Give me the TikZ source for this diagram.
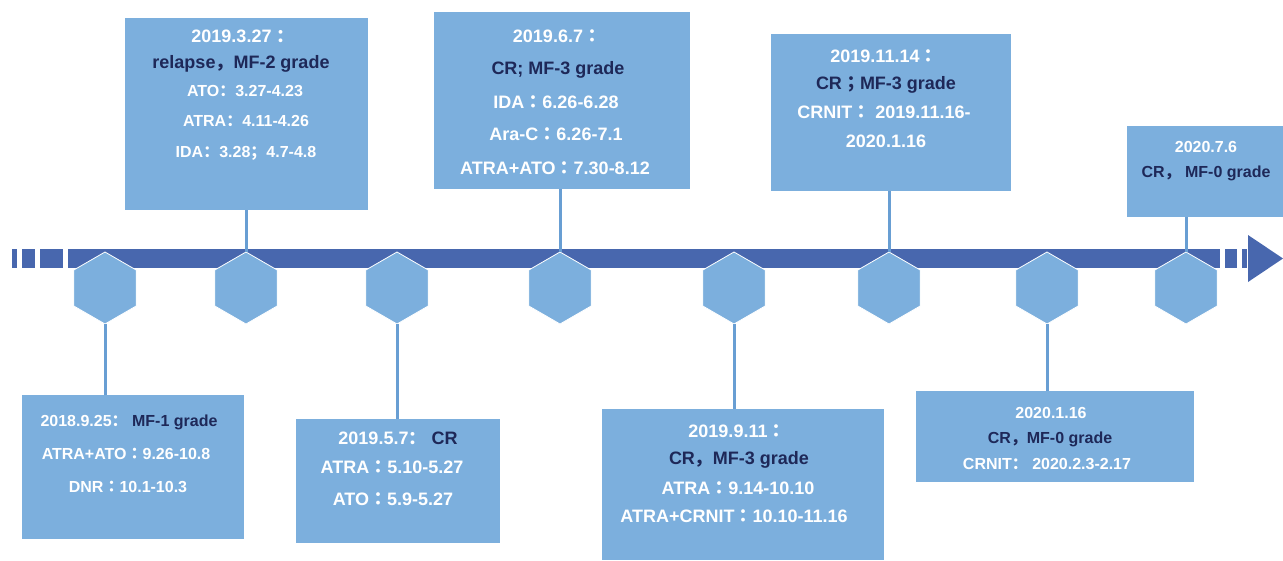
\documentclass[tikz,border=0pt]{standalone}
\usepackage{fontspec}
\setmainfont{Liberation Sans}
\newfontfamily\cjk{Noto Sans CJK SC}
\newfontfamily\cjkc{Noto Sans CJK TC}
\usetikzlibrary{shapes.geometric}
\definecolor{barblue}{RGB}{72,103,174}
\definecolor{boxblue}{RGB}{124,175,221}
\definecolor{linkblue}{RGB}{104,158,211}
\definecolor{inkdark}{RGB}{30,40,88}
\newcommand{\fw}[1]{{\cjk #1}}
\newcommand{\fwc}[1]{{\cjkc #1}}
\newcommand{\fsz}[1]{\fontsize{#1}{#1}\selectfont\bfseries}
\tikzset{
	card/.style={fill=boxblue,draw=none,inner sep=0pt},
	hexa/.style={regular polygon,regular polygon sides=6,shape border rotate=30,
		minimum size=72pt,inner sep=0pt,fill=boxblue,draw=white,line width=0.8pt},
	link/.style={draw=linkblue,line width=3pt},
	wtxt/.style={anchor=base,inner sep=0pt,text=white},
	dtxt/.style={wtxt,text=inkdark}
}
\begin{document}
\begin{tikzpicture}[x=1pt,y=-1pt]
			\useasboundingbox (0,0) rectangle (1283,560);
			% time bar
			\fill[barblue] (68,249) rectangle (1220,268);
			\foreach \a/\b in {12/17,22/35,40/63,1225/1237,1242/1247}
				\fill[barblue] (\a,249) rectangle (\b,268);
			\fill[barblue] (1248,235) -- (1283,258.5) -- (1248,282) -- cycle;
			% hexagons
			\foreach \x [count=\i] in {105,246,397,560,734,889,1047,1186}
				\node[hexa] (h\i) at (\x,288) {};
			% boxes
			\node[card,minimum width=243,minimum height=192] (top1) at (246.5,114) {};
			\node[card,minimum width=256,minimum height=177] (top2) at (562,100.5) {};
			\node[card,minimum width=240,minimum height=157] (top3) at (891,112.5) {};
			\node[card,minimum width=156,minimum height=91] (top4) at (1205,171.5) {};
			\node[card,minimum width=222,minimum height=144] (bot1) at (133,467) {};
			\node[card,minimum width=204,minimum height=124] (bot2) at (398,481) {};
			\node[card,minimum width=282,minimum height=151] (bot3) at (743,484.5) {};
			\node[card,minimum width=278,minimum height=91] (bot4) at (1055,436.5) {};
			% connectors
			\draw[link] (h1.south) -- (bot1.north -| h1);
			\draw[link] (top1.south -| h2) -- (h2.north);
			\draw[link] (h3.south) -- (bot2.north -| h3);
			\draw[link] (top2.south -| h4) -- (h4.north);
			\draw[link] (h5.south) -- (bot3.north -| h5);
			\draw[link] (top3.south -| h6) -- (h6.north);
			\draw[link] (h7.south) -- (bot4.north -| h7);
			\draw[link] (top4.south -| h8) -- (h8.north);
			% 2019.3.27
			\node[wtxt,font=\fsz{18}] (a1) at (243,42) {2019.3.27 \fw{：}};
			\node[dtxt,font=\fsz{18}] (a2) at (241,68) {relapse\fw{，}MF-2 grade};
			\node[wtxt,font=\fsz{16}] (a3) at (245,96) {ATO\fw{：}3.27-4.23};
			\node[wtxt,font=\fsz{16}] (a4) at (246,126) {ATRA\fw{：}4.11-4.26};
			\node[wtxt,font=\fsz{16}] (a5) at (246,157) {IDA\fw{：}3.28\fw{；}4.7-4.8};
			% 2019.6.7
			\node[wtxt,font=\fsz{18}] (b1) at (557,42) {2019.6.7\fwc{：}};
			\node[dtxt,font=\fsz{18}] (b2) at (558,74) {CR; MF-3 grade};
			\node[wtxt,font=\fsz{18}] (b3) at (556,108) {IDA\fwc{：}6.26-6.28};
			\node[wtxt,font=\fsz{18}] (b4) at (556,140) {Ara-C\fwc{：}6.26-7.1};
			\node[wtxt,font=\fsz{18}] (b5) at (555,174) {ATRA+ATO\fwc{：}7.30-8.12};
			% 2019.11.14
			\node[wtxt,font=\fsz{18}] (c1) at (884,62) {2019.11.14\fwc{：}};
			\node[dtxt,font=\fsz{18}] (c2) at (886,89) {CR\fwc{；}MF-3 grade};
			\node[wtxt,font=\fsz{18}] (c3) at (884,118) {CRNIT\fwc{：} 2019.11.16-};
			\node[wtxt,font=\fsz{18}] (c4) at (886,147) {2020.1.16};
			% 2020.7.6
			\node[wtxt,font=\fsz{16}] (d1) at (1206,152) {2020.7.6};
			\node[dtxt,font=\fsz{16}] (d2) at (1206,177) {CR\fw{，} MF-0 grade};
			% 2018.9.25
			\node[wtxt,font=\fsz{16}] (e1) at (129,426) {2018.9.25\fw{：} \textcolor{inkdark}{MF-1 grade}};
			\node[wtxt,font=\fsz{16}] (e2) at (126,459) {ATRA+ATO\fwc{：}9.26-10.8};
			\node[wtxt,font=\fsz{16}] (e3) at (128,492) {DNR\fwc{：}10.1-10.3};
			% 2019.5.7
			\node[wtxt,font=\fsz{18}] (f1) at (398,444) {2019.5.7\fw{：} \textcolor{inkdark}{CR}};
			\node[wtxt,font=\fsz{18}] (f2) at (392,473) {ATRA\fwc{：}5.10-5.27};
			\node[wtxt,font=\fsz{18}] (f3) at (393,505) {ATO\fwc{：}5.9-5.27};
			% 2019.9.11
			\node[wtxt,font=\fsz{18}] (g1) at (737,437) {2019.9.11\fwc{：}};
			\node[dtxt,font=\fsz{18}] (g2) at (739,464) {CR\fw{，}MF-3 grade};
			\node[wtxt,font=\fsz{18}] (g3) at (738,494) {ATRA\fwc{：}9.14-10.10};
			\node[wtxt,font=\fsz{18}] (g4) at (734,522) {ATRA+CRNIT\fwc{：}10.10-11.16};
			% 2020.1.16
			\node[wtxt,font=\fsz{16}] (k1) at (1051,418) {2020.1.16};
			\node[dtxt,font=\fsz{16}] (k2) at (1050,443) {CR\fw{，}MF-0 grade};
			\node[wtxt,font=\fsz{16}] (k3) at (1047,469) {CRNIT\fw{：} 2020.2.3-2.17};
\end{tikzpicture}
\end{document}
